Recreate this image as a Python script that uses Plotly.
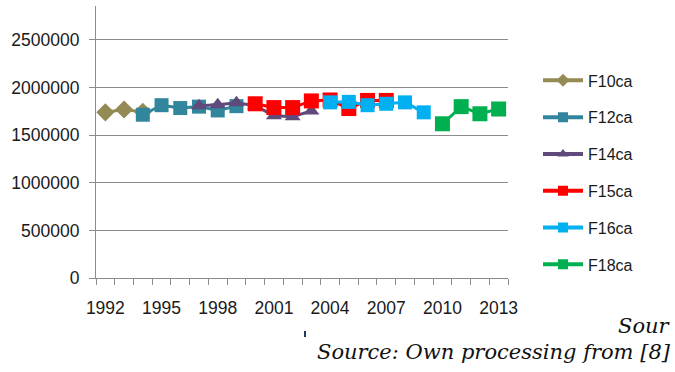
import plotly.graph_objects as go

# Yearly values for each series
f10_years = [1992, 1993, 1994]
f10_vals = [1740000, 1770000, 1745000]

f12_years = [1994, 1995, 1996, 1997, 1998, 1999]
f12_vals = [1715000, 1815000, 1785000, 1800000, 1760000, 1805000]

f14_years = [1997, 1998, 1999, 2000, 2001, 2002, 2003]
f14_vals = [1810000, 1820000, 1840000, 1810000, 1705000, 1695000, 1755000]

f15_years = [2000, 2001, 2002, 2003, 2004, 2005, 2006, 2007]
f15_vals = [1830000, 1790000, 1790000, 1860000, 1870000, 1780000, 1865000, 1865000]

f16_years = [2004, 2005, 2006, 2007, 2008, 2009]
f16_vals = [1845000, 1850000, 1815000, 1830000, 1845000, 1740000]

f18_years = [2010, 2011, 2012, 2013]
f18_vals = [1620000, 1800000, 1725000, 1775000]

names = ["F10ca", "F12ca", "F14ca", "F15ca", "F16ca", "F18ca"]
colors = ["#948A54", "#31859C", "#604A7B", "#FF0000", "#00B0F0", "#00B050"]
symbols = ["diamond", "square", "triangle-up", "square", "square", "square"]
sizes = [14, 14, 14, 15, 14, 15]

x_tick_vals = [1992, 1995, 1998, 2001, 2004, 2007, 2010, 2013]
y_tick_vals = [0, 500000, 1000000, 1500000, 2000000, 2500000]

series = [
    (f10_years, f10_vals),
    (f12_years, f12_vals),
    (f14_years, f14_vals),
    (f15_years, f15_vals),
    (f16_years, f16_vals),
    (f18_years, f18_vals),
]

fig = go.Figure()
for i, (xs, ys) in enumerate(series):
    fig.add_trace(go.Scatter(
        x=xs, y=ys, name=names[i], mode="lines+markers",
        showlegend=False,
        line=dict(color=colors[i], width=3),
        marker=dict(color=colors[i], symbol=symbols[i], size=sizes[i]),
    ))

# Legend entries with smaller symbols than the plotted markers
for i in range(len(names)):
    fig.add_trace(go.Scatter(
        x=[None], y=[None], name=names[i], mode="lines+markers",
        legendgroup=names[i],
        line=dict(color=colors[i], width=4),
        marker=dict(color=colors[i], symbol=symbols[i], size=10),
    ))

grid = "#8C8C8C"
tick_font = dict(family="Liberation Sans, Arial, sans-serif", size=17.5, color="#1a1a1a")

fig.update_layout(
    width=675, height=372,
    margin=dict(l=96, r=167, t=6, b=94, autoexpand=False),
    paper_bgcolor="white", plot_bgcolor="white",
    showlegend=True,
    legend=dict(
        x=1.0728, xanchor="left", y=0.388, yanchor="middle",
        font=dict(family="Liberation Sans, Arial, sans-serif", size=16, color="#1a1a1a"),
        tracegroupgap=13, traceorder="grouped", itemwidth=40,
        bgcolor="rgba(0,0,0,0)",
    ),
    xaxis=dict(
        range=[1991.5, 2013.5], tickmode="array", tickvals=x_tick_vals,
        ticks="", showgrid=False, zeroline=False,
        showline=True, linecolor=grid, linewidth=1,
        tickfont=tick_font, ticklabelstandoff=14,
        minor=dict(tickmode="linear", tick0=1991.5, dtick=1, ticks="outside",
                   ticklen=6, tickcolor=grid, tickwidth=1, showgrid=False),
    ),
    yaxis=dict(
        range=[0, 2857000], tickmode="array", tickvals=y_tick_vals,
        tickformat="d", ticks="outside", ticklen=6, tickcolor=grid,
        showgrid=True, gridcolor=grid, gridwidth=1, zeroline=False,
        showline=True, linecolor=grid, linewidth=1,
        tickfont=tick_font, ticklabelstandoff=6,
    ),
)

src_font = dict(family="DejaVu Serif, Liberation Serif, serif", size=21, color="#111111")
fig.add_annotation(text="<i>Sour</i>", xref="paper", yref="paper",
                   x=1.4005, y=-0.176, xanchor="right", yanchor="middle",
                   showarrow=False, font=src_font)
fig.add_annotation(text="<i>Source: Own processing from [8]</i>", xref="paper", yref="paper",
                   x=1.4005, y=-0.272, xanchor="right", yanchor="middle",
                   showarrow=False, font=src_font)
# small stray mark under the axis
fig.add_shape(type="line", xref="paper", yref="paper",
              x0=(305 - 96) / 412, x1=(305 - 96) / 412,
              y0=(278 - 331) / 272, y1=(278 - 337) / 272,
              line=dict(color="#1F3864", width=2))

fig.write_html("out.html")
